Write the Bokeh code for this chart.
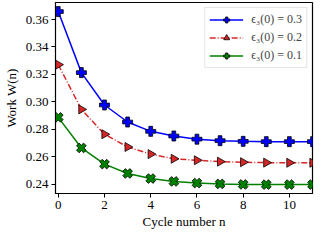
import math
from bokeh.plotting import figure
from bokeh.models import Range1d, FixedTicker, Legend, LegendItem, CustomJSTickFormatter
from bokeh.embed import file_html
from bokeh.resources import INLINE

cycles = list(range(12))
w_03 = [0.3658, 0.3213, 0.2977, 0.2853, 0.2785, 0.2751, 0.2728, 0.2717, 0.2712, 0.2710, 0.2710, 0.2710]
w_02 = [0.3271, 0.2945, 0.2764, 0.2671, 0.2619, 0.2585, 0.2574, 0.2564, 0.2560, 0.2557, 0.2556, 0.2556]
w_01 = [0.2887, 0.2664, 0.2546, 0.2478, 0.2441, 0.2420, 0.2408, 0.2402, 0.2398, 0.2397, 0.2397, 0.2397]
labels = ["ϵ₃(0) = 0.3", "ϵ₃(0) = 0.2", "ϵ₃(0) = 0.1"]
x_ticks = [0, 2, 4, 6, 8, 10]
y_ticks = [0.24, 0.26, 0.28, 0.30, 0.32, 0.34, 0.36]

FONT = "Liberation Serif"

p = figure(width=315, height=231, output_backend="svg", toolbar_location=None,
           x_range=Range1d(-0.12, 11), y_range=Range1d(0.2332, 0.3724),
           min_border_left=4, min_border_right=3, min_border_top=2, min_border_bottom=4)
p.xgrid.visible = False
p.ygrid.visible = False
p.outline_line_color = "black"
p.outline_line_width = 1.2
p.background_fill_color = "white"
p.border_fill_color = "white"

for ax in (p.xaxis[0], p.yaxis[0]):
    ax.major_tick_out = 4
    ax.major_tick_in = 0
    ax.minor_tick_line_color = None
    ax.major_label_text_font = FONT
    ax.major_label_text_font_size = "13px"
    ax.major_label_text_color = "black"
    ax.axis_label_text_font = FONT
    ax.axis_label_text_font_size = "13px"
    ax.axis_label_text_font_style = "normal"
    ax.axis_label_text_color = "black"
    ax.axis_line_color = "black"
    ax.major_tick_line_color = "black"

p.xaxis.ticker = FixedTicker(ticks=x_ticks)
p.yaxis.ticker = FixedTicker(ticks=y_ticks)
p.yaxis.formatter = CustomJSTickFormatter(code="return tick.toFixed(2);")
p.xaxis.axis_label = "Cycle number n"
p.yaxis.axis_label = "Work W(n)"
p.xaxis.axis_label_standoff = 2
p.yaxis.axis_label_standoff = 4
p.xaxis.major_label_standoff = 3
p.yaxis.major_label_standoff = 3

items = []
l1 = p.line(cycles, w_03, line_color="#0000ff", line_width=1.5)
m1 = p.scatter(cycles, w_03, marker="plus", size=10, fill_color="#0000ff", line_color="black", line_width=0.8)
items.append(LegendItem(label=labels[0], renderers=[l1, m1]))

l2 = p.line(cycles, w_02, line_color="#d62728", line_width=1.5, line_dash="6 2 1 2")
m2 = p.scatter(cycles, w_02, marker="triangle", angle=-math.pi / 2, size=9, fill_color="#d62728", line_color="black", line_width=0.8)
items.append(LegendItem(label=labels[1], renderers=[l2, m2]))

l3 = p.line(cycles, w_01, line_color="#008000", line_width=1.5)
m3 = p.scatter(cycles, w_01, marker="plus", angle=math.pi / 4, size=10, fill_color="#008000", line_color="black", line_width=0.8)
items.append(LegendItem(label=labels[2], renderers=[l3, m3]))

legend = Legend(items=items, location="top_right")
legend.label_text_font = FONT
legend.label_text_font_size = "12px"
legend.glyph_width = 34
legend.glyph_height = 15
legend.label_height = 15
legend.spacing = 3
legend.padding = 4
legend.margin = 5
legend.label_standoff = 8
legend.border_line_color = "#cccccc"
legend.border_line_width = 1
legend.background_fill_alpha = 0.9
p.add_layout(legend)

open("out.html", "w").write(file_html(p, INLINE))
